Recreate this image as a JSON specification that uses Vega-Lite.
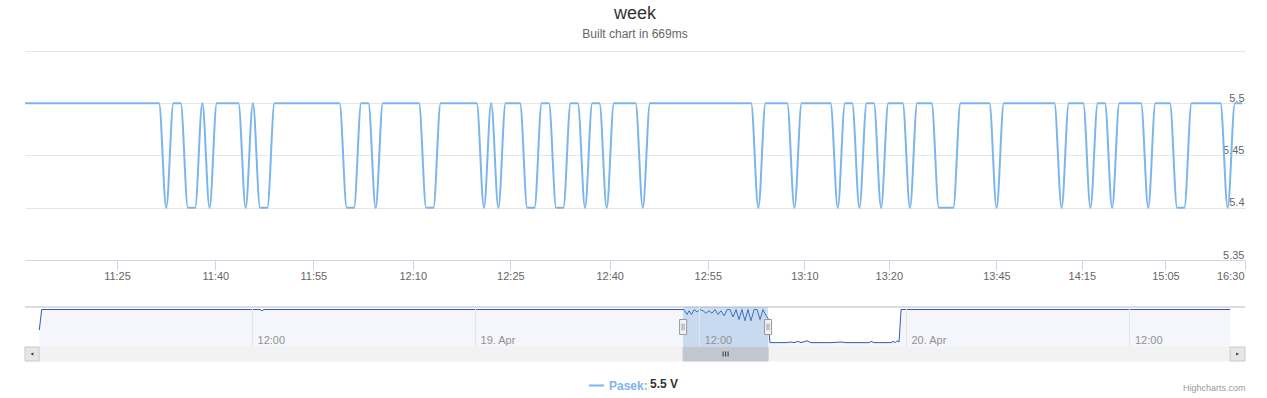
{
  "$schema": "https://vega.github.io/schema/vega-lite/v6.json",
  "padding": {"left": 24, "right": 23, "top": 5, "bottom": 0},
  "bounds": "flush",
  "spacing": 47,
  "title": {"text": "week", "subtitle": "Built chart in 669ms", "anchor": "middle", "fontSize": 18, "fontWeight": "normal", "color": "#333333", "subtitleFontSize": 12, "subtitleColor": "#666666", "subtitlePadding": 6, "offset": 11, "font": "Liberation Sans", "subtitleFont": "Liberation Sans"},
  "datasets": {
    "main": [
      {"i":0,"v":5.5},{"i":1,"v":5.5},{"i":2,"v":5.5},{"i":3,"v":5.5},{"i":4,"v":5.5},{"i":5,"v":5.5},{"i":6,"v":5.5},{"i":7,"v":5.5},{"i":8,"v":5.5},{"i":9,"v":5.5},
      {"i":10,"v":5.5},{"i":11,"v":5.5},{"i":12,"v":5.5},{"i":13,"v":5.5},{"i":14,"v":5.5},{"i":15,"v":5.5},{"i":16,"v":5.5},{"i":17,"v":5.5},{"i":18,"v":5.5},{"i":19,"v":5.5},
      {"i":20,"v":5.4},{"i":21,"v":5.5},{"i":22,"v":5.5},{"i":23,"v":5.4},{"i":24,"v":5.4},{"i":25,"v":5.5},{"i":26,"v":5.4},{"i":27,"v":5.5},{"i":28,"v":5.5},{"i":29,"v":5.5},
      {"i":30,"v":5.5},{"i":31,"v":5.4},{"i":32,"v":5.5},{"i":33,"v":5.4},{"i":34,"v":5.4},{"i":35,"v":5.5},{"i":36,"v":5.5},{"i":37,"v":5.5},{"i":38,"v":5.5},{"i":39,"v":5.5},
      {"i":40,"v":5.5},{"i":41,"v":5.5},{"i":42,"v":5.5},{"i":43,"v":5.5},{"i":44,"v":5.5},{"i":45,"v":5.4},{"i":46,"v":5.4},{"i":47,"v":5.5},{"i":48,"v":5.5},{"i":49,"v":5.4},
      {"i":50,"v":5.5},{"i":51,"v":5.5},{"i":52,"v":5.5},{"i":53,"v":5.5},{"i":54,"v":5.5},{"i":55,"v":5.5},{"i":56,"v":5.4},{"i":57,"v":5.4},{"i":58,"v":5.5},{"i":59,"v":5.5},
      {"i":60,"v":5.5},{"i":61,"v":5.5},{"i":62,"v":5.5},{"i":63,"v":5.5},{"i":64,"v":5.4},{"i":65,"v":5.5},{"i":66,"v":5.4},{"i":67,"v":5.5},{"i":68,"v":5.5},{"i":69,"v":5.5},
      {"i":70,"v":5.4},{"i":71,"v":5.4},{"i":72,"v":5.5},{"i":73,"v":5.5},{"i":74,"v":5.4},{"i":75,"v":5.4},{"i":76,"v":5.5},{"i":77,"v":5.5},{"i":78,"v":5.4},{"i":79,"v":5.5},
      {"i":80,"v":5.5},{"i":81,"v":5.4},{"i":82,"v":5.5},{"i":83,"v":5.5},{"i":84,"v":5.5},{"i":85,"v":5.5},{"i":86,"v":5.4},{"i":87,"v":5.5},{"i":88,"v":5.5},{"i":89,"v":5.5},
      {"i":90,"v":5.5},{"i":91,"v":5.5},{"i":92,"v":5.5},{"i":93,"v":5.5},{"i":94,"v":5.5},{"i":95,"v":5.5},{"i":96,"v":5.5},{"i":97,"v":5.5},{"i":98,"v":5.5},{"i":99,"v":5.5},
      {"i":100,"v":5.5},{"i":101,"v":5.5},{"i":102,"v":5.4},{"i":103,"v":5.5},{"i":104,"v":5.5},{"i":105,"v":5.5},{"i":106,"v":5.5},{"i":107,"v":5.4},{"i":108,"v":5.5},{"i":109,"v":5.5},
      {"i":110,"v":5.5},{"i":111,"v":5.5},{"i":112,"v":5.5},{"i":113,"v":5.4},{"i":114,"v":5.5},{"i":115,"v":5.5},{"i":116,"v":5.4},{"i":117,"v":5.5},{"i":118,"v":5.5},{"i":119,"v":5.4},
      {"i":120,"v":5.5},{"i":121,"v":5.5},{"i":122,"v":5.5},{"i":123,"v":5.4},{"i":124,"v":5.5},{"i":125,"v":5.5},{"i":126,"v":5.5},{"i":127,"v":5.4},{"i":128,"v":5.4},{"i":129,"v":5.4},
      {"i":130,"v":5.5},{"i":131,"v":5.5},{"i":132,"v":5.5},{"i":133,"v":5.5},{"i":134,"v":5.5},{"i":135,"v":5.4},{"i":136,"v":5.5},{"i":137,"v":5.5},{"i":138,"v":5.5},{"i":139,"v":5.5},
      {"i":140,"v":5.5},{"i":141,"v":5.5},{"i":142,"v":5.5},{"i":143,"v":5.5},{"i":144,"v":5.4},{"i":145,"v":5.5},{"i":146,"v":5.5},{"i":147,"v":5.5},{"i":148,"v":5.4},{"i":149,"v":5.5},
      {"i":150,"v":5.5},{"i":151,"v":5.4},{"i":152,"v":5.5},{"i":153,"v":5.5},{"i":154,"v":5.5},{"i":155,"v":5.5},{"i":156,"v":5.4},{"i":157,"v":5.5},{"i":158,"v":5.5},{"i":159,"v":5.5},
      {"i":160,"v":5.4},{"i":161,"v":5.4},{"i":162,"v":5.5},{"i":163,"v":5.5},{"i":164,"v":5.5},{"i":165,"v":5.5},{"i":166,"v":5.5},{"i":167,"v":5.4},{"i":168,"v":5.5},{"i":169,"v":5.5}
    ],
    "nav": [
      {"h":0.583,"v":5.336},{"h":0.71,"v":5.5},{"h":12.43,"v":5.5},{"h":12.54,"v":5.49},{"h":12.64,"v":5.5},{"h":35.19,"v":5.5},
      {"h":35.35,"v":5.46},{"h":35.46,"v":5.49},{"h":35.59,"v":5.46},{"h":35.73,"v":5.5},{"h":35.89,"v":5.48},{"h":36.05,"v":5.5},
      {"h":36.21,"v":5.49},{"h":36.37,"v":5.47},{"h":36.53,"v":5.49},{"h":36.69,"v":5.47},{"h":36.85,"v":5.5},{"h":37.01,"v":5.46},
      {"h":37.17,"v":5.49},{"h":37.34,"v":5.45},{"h":37.5,"v":5.5},{"h":37.66,"v":5.5},{"h":37.82,"v":5.44},{"h":37.98,"v":5.5},
      {"h":38.14,"v":5.42},{"h":38.3,"v":5.5},{"h":38.46,"v":5.41},{"h":38.62,"v":5.5},{"h":38.78,"v":5.41},{"h":38.95,"v":5.5},
      {"h":39.11,"v":5.5},{"h":39.27,"v":5.42},{"h":39.43,"v":5.5},{"h":39.59,"v":5.45},{"h":39.7,"v":5.43},{"h":39.8,"v":5.235},
      {"h":40.13,"v":5.235},{"h":40.66,"v":5.235},{"h":40.93,"v":5.24},{"h":41.09,"v":5.235},{"h":41.31,"v":5.245},{"h":41.47,"v":5.235},
      {"h":41.79,"v":5.25},{"h":42.0,"v":5.235},{"h":43.08,"v":5.235},{"h":43.62,"v":5.24},{"h":43.88,"v":5.235},{"h":45.12,"v":5.235},
      {"h":45.23,"v":5.245},{"h":45.39,"v":5.235},{"h":46.3,"v":5.235},{"h":46.41,"v":5.245},{"h":46.52,"v":5.235},{"h":46.62,"v":5.25},
      {"h":46.73,"v":5.24},{"h":46.84,"v":5.5},{"h":64.5,"v":5.5}
    ],
    "sel": [{"a":35.14,"b":39.7}],
    "scroll": [
      {"part":"track","a":-0.185,"b":65.3},
      {"part":"thumb","a":35.14,"b":39.7},
      {"part":"btnL","a":-0.185,"b":0.57},
      {"part":"btnR","a":64.5,"b":65.3}
    ],
    "arrows": [{"c":0.19,"s":"triangle-left"},{"c":64.9,"s":"triangle-right"}],
    "grip": [{"c":37.42}],
    "one": [{}]
  },
  "vconcat": [
    {
      "width": 1220,
      "height": 209,
      "data": {"name": "main"},
      "mark": {"type": "line", "interpolate": "monotone", "strokeWidth": 2, "clip": true},
      "encoding": {
        "x": {
          "field": "i", "type": "quantitative",
          "scale": {"domain": [0.44, 169.4], "nice": false, "zero": false},
          "axis": {
            "title": null,
            "values": [13.18, 26.8, 40.37, 54.14, 67.66, 81.42, 95, 108.38, 120.07, 134.97, 146.8, 158.38, 169.4],
            "labelExpr": "['11:25','11:40','11:55','12:10','12:25','12:40','12:55','13:10','13:20','13:45','14:15','15:05','16:30'][indexof([13.18, 26.8, 40.37, 54.14, 67.66, 81.42, 95, 108.38, 120.07, 134.97, 146.8, 158.38, 169.4], datum.value)]",
            "grid": false,
            "domainColor": "#ccd6eb",
            "tickColor": "#ccd6eb",
            "tickSize": 10,
            "labelColor": "#666666",
            "labelFontSize": 11,
            "labelFont": "Liberation Sans",
            "labelPadding": 0,
            "labelFlush": false,
            "labelOverlap": false,
            "labelAlign": {"condition": {"test": "datum.value > 169", "value": "right"}, "value": "center"},
            "labelOffset": {"condition": {"test": "datum.value > 169", "value": -1}, "value": 0}
          }
        },
        "y": {
          "field": "v", "type": "quantitative",
          "scale": {"domain": [5.35, 5.55], "nice": false, "zero": false},
          "axis": {
            "title": null,
            "orient": "right",
            "values": [5.35, 5.4, 5.45, 5.5, 5.55],
            "labelExpr": "datum.value > 5.54 ? '' : toString(datum.value)",
            "grid": true,
            "gridColor": "#e6e6e6",
            "domain": false,
            "ticks": false,
            "tickSize": 0,
            "labelAlign": "right",
            "labelPadding": -1,
            "labelBaseline": "alphabetic",
            "labelOffset": -2,
            "labelColor": "#666666",
            "labelFontSize": 11,
            "labelFont": "Liberation Sans"
          }
        },
        "color": {
          "datum": "Pasek", "type": "nominal",
          "scale": {"range": ["#7cb5ec"]},
          "legend": {
            "orient": "none", "legendX": 563, "legendY": 326,
            "direction": "horizontal",
            "title": "5.5 V", "titleOrient": "right", "titleAnchor": "middle", "titleBaseline": "middle", "titleFontSize": 12, "titleFontWeight": "bold", "titleColor": "#333333", "titlePadding": 2, "titleFont": "Liberation Sans",
            "labelExpr": "'Pasek:'", "labelFontSize": 12, "labelFontWeight": "bold", "labelColor": "#7cb5ec", "labelFont": "Liberation Sans", "labelOffset": 4,
            "symbolType": "stroke", "symbolStrokeWidth": 2, "symbolSize": 225
          }
        }
      }
    },
    {
      "bounds": "flush",
      "spacing": 0,
      "vconcat": [
        {
          "width": 1220,
          "height": 40,
          "layer": [
            {
              "data": {"name": "nav"},
              "mark": {"type": "area", "color": "#f4f6fb", "clip": true},
              "encoding": {
                "x": {
                  "field": "h", "type": "quantitative",
                  "scale": {"domain": [-0.185, 65.3], "nice": false, "zero": false},
                  "axis": {
                    "title": null, "zindex": 1,
                    "values": [12, 23.97, 36, 47.1, 59.1],
                    "labelExpr": "['12:00','19. Apr','12:00','20. Apr','12:00'][indexof([12, 23.97, 36, 47.1, 59.1], datum.value)]",
                    "grid": true, "gridColor": "#e6e6e6", "domain": false, "ticks": false, "tickSize": 0,
                    "labelAlign": "left", "labelBaseline": "alphabetic", "labelPadding": -4, "labelOffset": 5,
                    "labelColor": "#929292", "labelFontSize": 11, "labelFont": "Liberation Sans",
                    "labelFlush": false, "labelOverlap": false
                  }
                },
                "y": {"field": "v", "type": "quantitative", "scale": {"domain": [5.2, 5.52], "nice": false, "zero": false}, "axis": null}
              }
            },
            {
              "data": {"name": "nav"},
              "mark": {"type": "line", "color": "#335cad", "strokeWidth": 1, "clip": true},
              "encoding": {
                "x": {"field": "h", "type": "quantitative"},
                "y": {"field": "v", "type": "quantitative"}
              }
            },
            {
              "data": {"name": "one"},
              "mark": {"type": "rule", "color": "#bbbbbb", "strokeWidth": 1},
              "encoding": {"y": {"datum": 5.52}}
            },
            {
              "data": {"name": "sel"},
              "mark": {"type": "rect", "fill": "#5f98d7", "fillOpacity": 0.3},
              "encoding": {"x": {"field": "a", "type": "quantitative"}, "x2": {"field": "b"}}
            },
            {
              "data": {"name": "sel"},
              "transform": [{"fold": ["a", "b"], "as": ["k", "h"]}],
              "mark": {"type": "point", "shape": "M-0.47,-1H0.47V1H-0.47Z M-0.13,-0.45V0.45 M0.13,-0.45V0.45", "size": 225, "filled": true, "fill": "#f2f2f2", "stroke": "#999999", "strokeWidth": 1, "opacity": 1},
              "encoding": {"x": {"field": "h", "type": "quantitative"}}
            }
          ]
        },
        {
          "width": 1220,
          "height": 14,
          "title": {"text": "Highcharts.com", "orient": "bottom", "anchor": "end", "fontSize": 9, "fontWeight": "normal", "color": "#999999", "offset": 22, "font": "Liberation Sans"},
          "layer": [
            {
              "data": {"name": "scroll"},
              "mark": {"type": "rect", "strokeWidth": 1},
              "encoding": {
                "x": {"field": "a", "type": "quantitative", "scale": {"domain": [-0.185, 65.3], "nice": false, "zero": false}, "axis": null},
                "x2": {"field": "b"},
                "fill": {"field": "part", "type": "nominal", "scale": {"domain": ["track", "thumb", "btnL", "btnR"], "range": ["#f2f2f2", "#c0c7cf", "#e6e6e6", "#e6e6e6"]}, "legend": null},
                "stroke": {"field": "part", "type": "nominal", "scale": {"domain": ["track", "thumb", "btnL", "btnR"], "range": ["#f2f2f2", "#c0c7cf", "#cccccc", "#cccccc"]}, "legend": null}
              }
            },
            {
              "data": {"name": "arrows"},
              "mark": {"type": "point", "filled": true, "color": "#333333", "size": 10, "opacity": 1},
              "encoding": {
                "x": {"field": "c", "type": "quantitative"},
                "shape": {"field": "s", "type": "nominal", "scale": null}
              }
            },
            {
              "data": {"name": "grip"},
              "mark": {"type": "point", "shape": "M-1,-1V1M0,-1V1M1,-1V1", "size": 25, "filled": false, "stroke": "#333333", "strokeWidth": 1, "opacity": 1},
              "encoding": {"x": {"field": "c", "type": "quantitative"}}
            }
          ]
        }
      ]
    }
  ],
  "config": {
    "font": "Liberation Sans",
    "view": {"stroke": null}
  }
}
